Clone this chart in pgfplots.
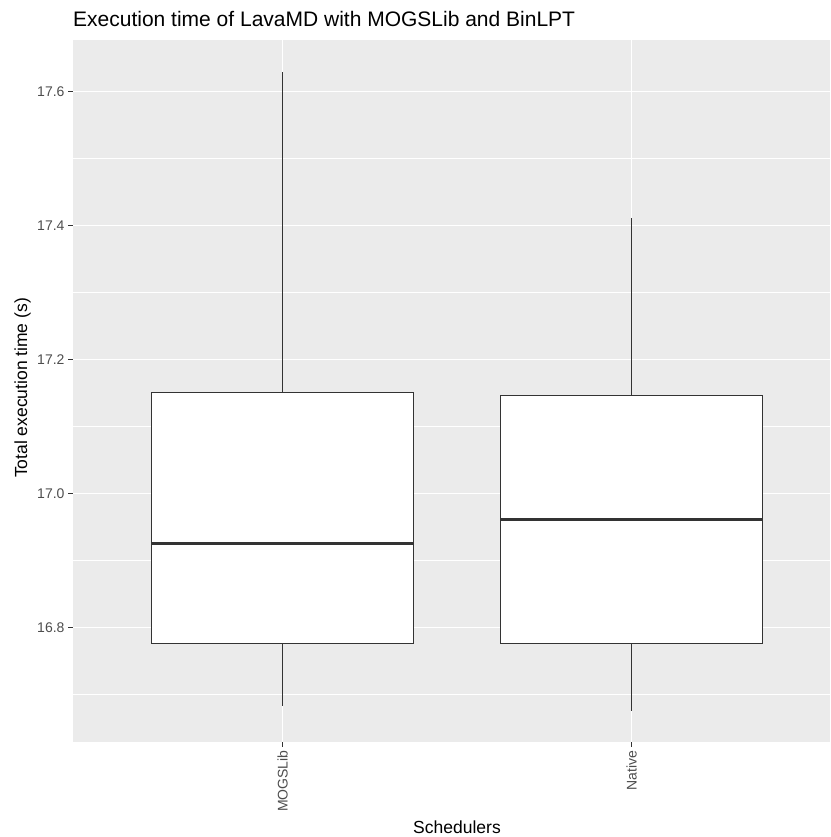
\documentclass[border=0pt]{standalone}
\usepackage{pgfplots}
\pgfplotsset{compat=1.18}
\usepackage{fontspec}
\setmainfont{Liberation Sans}
\definecolor{panelbg}{HTML}{EBEBEB}
\definecolor{gray20}{HTML}{333333}
\definecolor{gray30}{HTML}{4D4D4D}
\begin{document}
\begin{tikzpicture}
\path[use as bounding box] (0,0) rectangle (830pt,837pt);
\begin{axis}[
  at={(73pt,95pt)}, anchor=south west, scale only axis,
  width=757pt, height=702pt,
  xmin=0.4, xmax=2.568, ymin=16.629, ymax=17.677,
  axis background/.style={fill=panelbg},
  axis line style={draw=none},
  xtick={1,2}, xticklabels={MOGSLib,Native},
  ytick={16.8,17.0,17.2,17.4,17.6},
  yticklabels={16.8,17.0,17.2,17.4,17.6},
  minor ytick={16.7,16.9,17.1,17.3,17.5},
  xmajorgrids, ymajorgrids, yminorgrids,
  major grid style={white, line width=1.4pt},
  minor grid style={white, line width=0.7pt},
  tick align=outside, major tick length=5pt, minor tick length=0pt,
  tick style={gray20, line width=1.1pt},
  xtick pos=bottom, ytick pos=left,
  /pgf/number format/assume math mode=true,
  y tick label style={font=\fontsize{14}{15}\selectfont, text=gray30},
  x tick label style={font=\fontsize{14}{15}\selectfont, text=gray30, rotate=90, anchor=east},
]
% MOGSLib: lower whisker 16.683, Q1 16.776, median 16.925, Q3 17.151, upper whisker 17.629
\addplot[gray20, line width=1.3pt] coordinates {(1,17.151) (1,17.629)};
\addplot[gray20, line width=1.3pt] coordinates {(1,16.776) (1,16.683)};
\addplot[draw=gray20, fill=white, line width=1.3pt] coordinates {(0.625,16.776) (1.375,16.776) (1.375,17.151) (0.625,17.151)} -- cycle;
\addplot[gray20, line width=2.6pt] coordinates {(0.625,16.925) (1.375,16.925)};
% Native: lower whisker 16.676, Q1 16.776, median 16.961, Q3 17.146, upper whisker 17.411
\addplot[gray20, line width=1.3pt] coordinates {(2,17.146) (2,17.411)};
\addplot[gray20, line width=1.3pt] coordinates {(2,16.776) (2,16.676)};
\addplot[draw=gray20, fill=white, line width=1.3pt] coordinates {(1.625,16.776) (2.375,16.776) (2.375,17.146) (1.625,17.146)} -- cycle;
\addplot[gray20, line width=2.6pt] coordinates {(1.625,16.961) (2.375,16.961)};
\end{axis}
\node[anchor=base west, font=\fontsize{21}{24}\selectfont, inner sep=0pt] at (73pt,810pt) {Execution time of LavaMD with MOGSLib and BinLPT};
\node[rotate=90, anchor=base, font=\fontsize{17.5}{20}\selectfont, inner sep=0pt] at (27pt,449pt) {Total execution time (s)};
\node[anchor=base, font=\fontsize{17.5}{20}\selectfont, inner sep=0pt] at (457pt,3.5pt) {Schedulers};
\end{tikzpicture}
\end{document}
